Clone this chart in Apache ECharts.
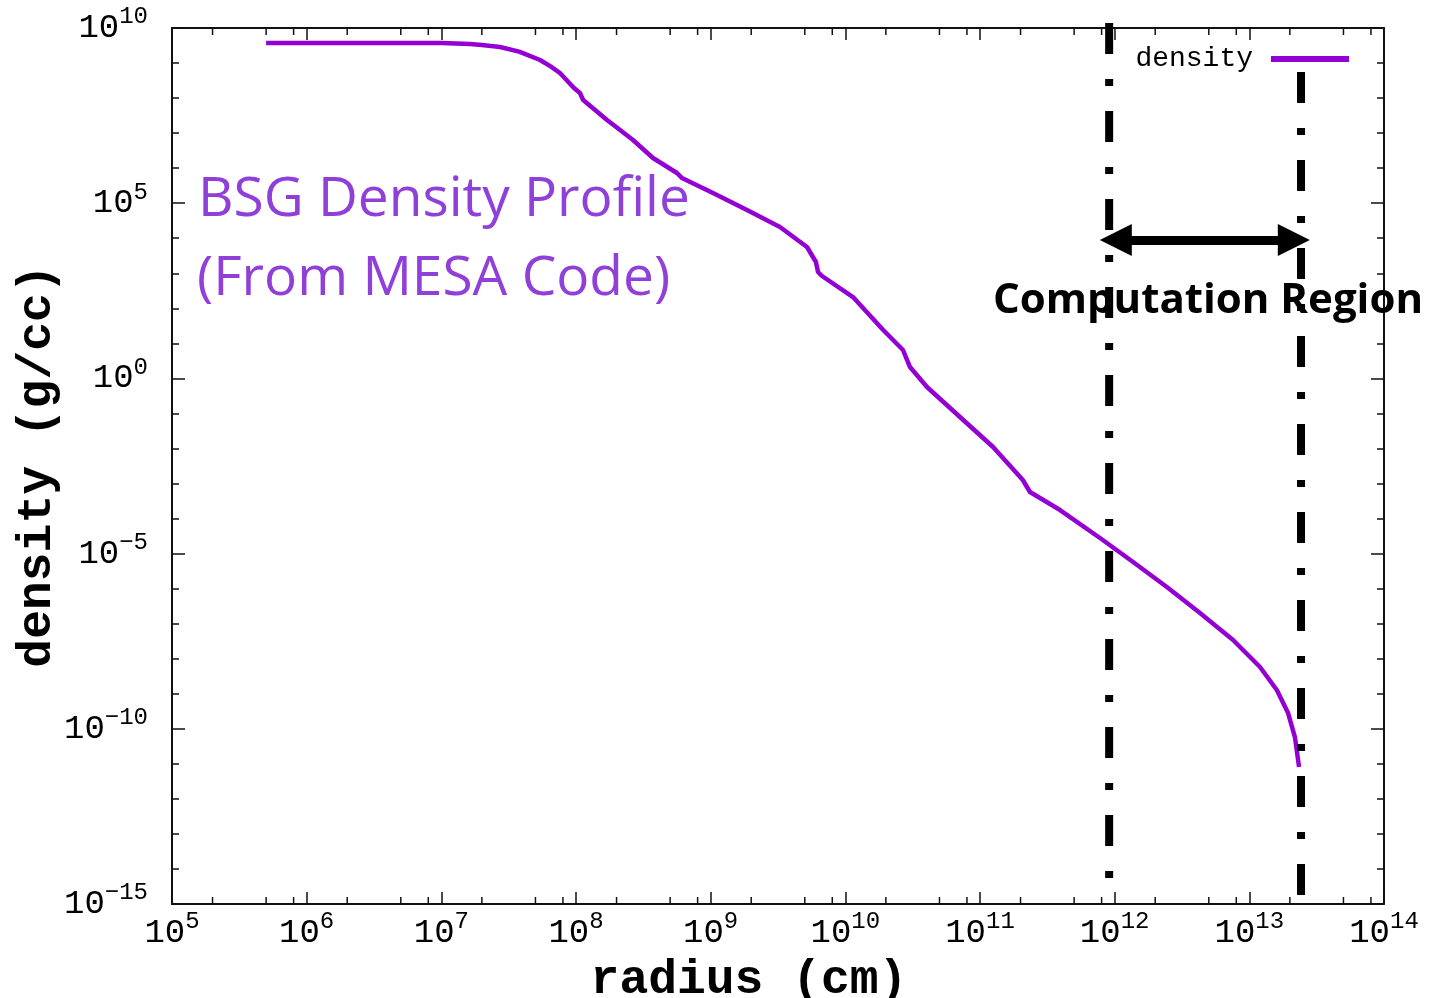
<!DOCTYPE html>
<html>
<head>
<meta charset="utf-8">
<title>BSG Density Profile</title>
<script src="https://cdn.jsdelivr.net/npm/echarts@6/dist/echarts.min.js"></script>
<style>
  html, body { margin: 0; padding: 0; background: #fff; }
  #chart { width: 1436px; height: 998px; }
</style>
</head>
<body>
<div id="chart"></div>
<script>
// Stellar density profile of a blue supergiant (MESA output), radius in cm, density in g/cc
const radius = [
  5.0e5, 1.49e6, 4.93e6, 1.0e7, 1.63e7, 2.0e7, 2.73e7, 3.78e7, 5.41e7, 6.52e7,
  7.6e7, 9.66e7, 1.07e8, 1.13e8, 1.7e8, 2.65e8, 3.73e8, 5.62e8, 6.12e8, 1.04e9,
  1.86e9, 3.27e9, 5.19e9, 6.05e9, 6.27e9, 6.71e9, 1.14e10, 1.91e10, 2.68e10, 3.02e10,
  4.04e10, 7.1e10, 1.25e11, 2.08e11, 2.35e11, 3.93e11, 7.78e11, 1.37e12, 2.44e12, 4.3e12,
  7.57e12, 1.2e13, 1.6e13, 1.94e13, 2.18e13, 2.34e13
];
const density = [
  3.73e9, 3.73e9, 3.73e9, 3.73e9, 3.49e9, 3.27e9, 2.87e9, 2.11e9, 1.22e9, 7.87e8,
  5.2e8, 1.94e8, 1.4e8, 8.81e7, 2.37e7, 6.37e6, 1.95e6, 7.28e5, 5.24e5, 1.95e5,
  6.4e4, 2.09e4, 5.62e3, 2.1e3, 1.09e3, 8.36e2, 2.1e2, 24.0, 6.47, 2.11,
  0.569, 0.0791, 0.011, 1.26e-3, 5.73e-4, 1.75e-4, 2.79e-5, 5.75e-6, 1.11e-6, 2.02e-7,
  3.42e-8, 5.81e-9, 1.28e-9, 2.82e-10, 5.83e-11, 8.13e-12
];

// Axis ranges and tick settings (log axes, steps in decades)
const xRange = [1e5, 1e14];
const yRange = [1e-15, 1e10];
const xMinorFactors = [2, 5, 8];

// Inner and outer radii bounding the computation region, with the vertical extent of each marker line
const regionInner = { r: 9.1e11, top: 1.39e10, bottom: 5.5e-15 };
const regionOuter = { r: 2.42e13, top: 5.55e8, bottom: 1.7e-15 };
// Double arrow spanning the region (centres of the arrow heads)
const arrowSpan = { from: 1.02e12, to: 2.14e13, level: 8.9e3 };

const xMinorTicks = [];
for (let e = 5; e < 14; e++) {
  xMinorFactors.forEach(f => xMinorTicks.push([f * Math.pow(10, e), yRange[0]]));
}

const MONO = '"Liberation Mono", "DejaVu Sans Mono", monospace';
const SANS = '"Open Sans", Lato, "Noto Sans", sans-serif';
const PURPLE = '#9400d3';

function powerLabel(v) {
  const e = Math.round(Math.log10(v));
  const s = e < 0 ? '\u2212' + Math.abs(e) : String(e);
  return '{b|10}{s|' + s + '}';
}
const powerRich = {
  b: { fontFamily: MONO, fontSize: 34, color: '#000', verticalAlign: 'bottom', lineHeight: 34 },
  s: { fontFamily: MONO, fontSize: 24, color: '#000', verticalAlign: 'bottom', lineHeight: 34, padding: [0, 0, 16, 0] }
};

const axisLine = { show: true, lineStyle: { color: '#111', width: 2 } };

const chart = echarts.init(document.getElementById('chart'));
chart.setOption({
  backgroundColor: '#fff',
  animation: false,
  grid: { left: 172, right: 52, top: 28, bottom: 94, containLabel: false, outerBoundsMode: 'none' },
  legend: {
    data: ['density'],
    right: 82,
    top: 40,
    align: 'right',
    icon: 'rect',
    itemWidth: 78,
    itemHeight: 6,
    textStyle: { fontFamily: MONO, fontSize: 28, color: '#000', padding: [0, 13, 0, 0] }
  },
  xAxis: [
    {
      type: 'log', logBase: 10, min: xRange[0], max: xRange[1], interval: 1,
      position: 'bottom',
      axisLine,
      splitLine: { show: false },
      axisTick: { show: true, inside: true, length: 12, lineStyle: { color: '#111', width: 1.5 } },
      axisLabel: { formatter: powerLabel, rich: powerRich, margin: 12 },
      name: 'radius (cm)',
      nameLocation: 'middle',
      nameGap: 53,
      nameMoveOverlap: false,
      nameTextStyle: { fontFamily: MONO, fontWeight: 'bold', fontSize: 48, color: '#000', padding: [0, 58, 0, 0] }
    },
    {
      type: 'log', logBase: 10, min: xRange[0], max: xRange[1], interval: 1,
      position: 'top',
      axisLine,
      splitLine: { show: false },
      axisTick: { show: true, inside: true, length: 12, lineStyle: { color: '#111', width: 1.5 } },
      axisLabel: { show: false }
    }
  ],
  yAxis: [
    {
      type: 'log', logBase: 10, min: yRange[0], max: yRange[1], interval: 5,
      position: 'left',
      axisLine,
      splitLine: { show: false },
      axisTick: { show: true, inside: true, length: 13, lineStyle: { color: '#111', width: 1.5 } },
      axisLabel: { formatter: powerLabel, rich: powerRich, margin: 24, align: 'right' },
      name: 'density (g/cc)',
      nameLocation: 'middle',
      nameGap: 110,
      nameMoveOverlap: false,
      nameTextStyle: { fontFamily: MONO, fontWeight: 'bold', fontSize: 48, color: '#000' }
    },
    {
      type: 'log', logBase: 10, min: yRange[0], max: yRange[1], interval: 5,
      position: 'right',
      axisLine,
      splitLine: { show: false },
      axisTick: { show: true, inside: true, length: 13, lineStyle: { color: '#111', width: 1.5 } },
      axisLabel: { show: false }
    },
    {
      type: 'log', logBase: 10, min: yRange[0], max: yRange[1], interval: 1,
      position: 'left',
      axisLine: { show: false },
      splitLine: { show: false },
      axisTick: { show: true, inside: true, length: 7, lineStyle: { color: '#111', width: 1.5 } },
      axisLabel: { show: false }
    },
    {
      type: 'log', logBase: 10, min: yRange[0], max: yRange[1], interval: 1,
      position: 'right',
      axisLine: { show: false },
      splitLine: { show: false },
      axisTick: { show: true, inside: true, length: 7, lineStyle: { color: '#111', width: 1.5 } },
      axisLabel: { show: false }
    }
  ],
  graphic: [
    {
      type: 'text', left: 198, top: 173, z: 10,
      style: { text: 'BSG Density Profile', font: '55px ' + SANS, fill: '#9040d8' }
    },
    {
      type: 'text', left: 197, top: 252, z: 10,
      style: { text: '(From MESA Code)', font: '55px ' + SANS, fill: '#9040d8' }
    },
    {
      type: 'text', left: 993, top: 280, z: 10,
      style: { text: 'Computation Region', font: 'bold 42px ' + SANS, fill: '#000' }
    }
  ],
  series: [
    {
      name: 'density',
      type: 'line',
      xAxisIndex: 0, yAxisIndex: 0,
      data: radius.map((r, i) => [r, density[i]]),
      showSymbol: false,
      symbol: 'none',
      smooth: false,
      lineStyle: { color: PURPLE, width: 4.5, join: 'round' },
      itemStyle: { color: PURPLE },
      z: 5
    },
    {
      name: 'inner boundary',
      type: 'line',
      xAxisIndex: 0, yAxisIndex: 0,
      data: [[regionInner.r, regionInner.top], [regionInner.r, regionInner.bottom]],
      symbol: 'none',
      clip: false,
      silent: true,
      lineStyle: { color: '#000', width: 8, type: [31, 25, 7, 25], cap: 'butt' },
      z: 6
    },
    {
      name: 'outer boundary',
      type: 'line',
      xAxisIndex: 0, yAxisIndex: 0,
      data: [[regionOuter.r, regionOuter.top], [regionOuter.r, regionOuter.bottom]],
      symbol: 'none',
      clip: false,
      silent: true,
      lineStyle: { color: '#000', width: 8, type: [31, 25, 7, 25], cap: 'butt' },
      z: 6,
      markLine: {
        silent: true,
        symbol: ['triangle', 'triangle'],
        symbolSize: [32, 32],
        label: { show: false },
        lineStyle: { color: '#000', width: 9, type: 'solid' },
        data: [[
          { coord: [arrowSpan.from, arrowSpan.level] },
          { coord: [arrowSpan.to, arrowSpan.level] }
        ]]
      }
    },
    {
      name: 'x minor ticks',
      type: 'custom',
      xAxisIndex: 0, yAxisIndex: 0,
      silent: true,
      clip: false,
      data: xMinorTicks,
      renderItem: function (params, api) {
        const x = api.value(0);
        const b = api.coord([x, yRange[0]]);
        const t = api.coord([x, yRange[1]]);
        const st = { stroke: '#111', lineWidth: 1.5 };
        return {
          type: 'group',
          children: [
            { type: 'line', shape: { x1: b[0], y1: b[1], x2: b[0], y2: b[1] - 7 }, style: st },
            { type: 'line', shape: { x1: t[0], y1: t[1], x2: t[0], y2: t[1] + 7 }, style: st }
          ]
        };
      }
    }
  ]
});
</script>
</body>
</html>
